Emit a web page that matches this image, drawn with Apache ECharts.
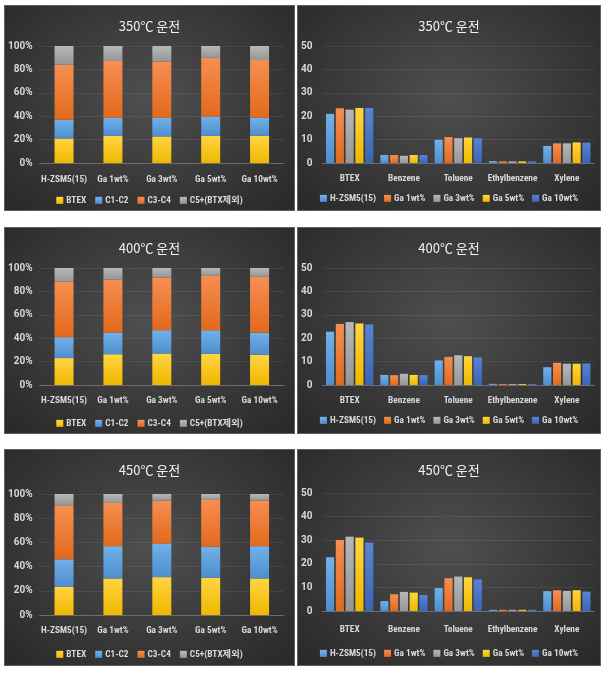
<!DOCTYPE html>
<html>
<head>
<meta charset="utf-8">
<script src="https://cdn.jsdelivr.net/npm/echarts@6/dist/echarts.min.js"></script>
<style>
html,body{margin:0;padding:0;background:#ffffff;width:610px;height:673px;overflow:hidden;}
.panel{position:absolute;box-sizing:border-box;border:1px solid #5e5e5e;
background:radial-gradient(ellipse at 50% 45%, #4f4f4f 0%, #3d3d3d 45%, #282828 100%);}
</style>
</head>
<body>
<div id="p1" class="panel" style="left:4px;top:5px;width:291px;height:206px;"></div>
<div id="p2" class="panel" style="left:297px;top:5px;width:304px;height:206px;"></div>
<div id="p3" class="panel" style="left:4px;top:227px;width:291px;height:207px;"></div>
<div id="p4" class="panel" style="left:297px;top:227px;width:304px;height:207px;"></div>
<div id="p5" class="panel" style="left:4px;top:449px;width:291px;height:217px;"></div>
<div id="p6" class="panel" style="left:297px;top:449px;width:304px;height:217px;"></div>
<script>
// ---------- DATA ----------
const titles = ['350℃ 운전', '400℃ 운전', '450℃ 운전'];
const catalysts = ['H-ZSM5(15)', 'Ga 1wt%', 'Ga 3wt%', 'Ga 5wt%', 'Ga 10wt%'];
const productGroups = ['BTEX', 'C1-C2', 'C3-C4', 'C5+(BTX제외)'];
const aromatics = ['BTEX', 'Benzene', 'Toluene', 'Ethylbenzene', 'Xylene'];
const pctTicks = ['0%', '20%', '40%', '60%', '80%', '100%'];
const yieldTicks = ['0', '10', '20', '30', '40', '50'];

// product distribution (%), by catalyst order
const btex350 = [21.0, 23.2, 22.7, 23.2, 23.2];
const c1c2_350 = [16.0, 15.5, 16.0, 16.6, 15.5];
const c3c4_350 = [47.0, 48.4, 48.1, 50.1, 49.3];
const c5_350 = [16.0, 12.9, 13.2, 10.1, 12.0];

const btex400 = [23.0, 26.3, 26.9, 26.6, 25.8];
const c1c2_400 = [17.9, 18.5, 19.9, 20.2, 19.0];
const c3c4_400 = [47.3, 45.4, 45.1, 46.5, 47.6];
const c5_400 = [11.8, 9.8, 8.1, 6.7, 7.6];

const btex450 = [23.2, 30.2, 31.3, 30.8, 30.2];
const c1c2_450 = [22.8, 26.7, 27.8, 25.6, 26.7];
const c3c4_450 = [44.7, 35.7, 35.5, 38.7, 37.7];
const c5_450 = [9.3, 7.4, 5.4, 4.9, 5.4];

// aromatic yields, by aromatic order
const hzsm350 = [21.0, 3.4, 9.9, 0.8, 7.3];
const ga1_350 = [23.4, 3.4, 11.1, 0.7, 8.4];
const ga3_350 = [22.8, 3.1, 10.6, 0.7, 8.4];
const ga5_350 = [23.5, 3.4, 10.9, 0.7, 8.8];
const ga10_350 = [23.5, 3.4, 10.6, 0.7, 8.7];

const hzsm400 = [22.8, 4.3, 10.5, 0.5, 7.6];
const ga1_400 = [26.1, 4.2, 12.0, 0.4, 9.5];
const ga3_400 = [26.9, 4.8, 12.7, 0.4, 9.1];
const ga5_400 = [26.3, 4.3, 12.3, 0.4, 9.1];
const ga10_400 = [25.9, 4.2, 11.8, 0.4, 9.2];

const hzsm450 = [22.8, 4.2, 9.7, 0.5, 8.4];
const ga1_450 = [30.1, 7.1, 13.9, 0.5, 8.8];
const ga3_450 = [31.5, 8.1, 14.6, 0.5, 8.5];
const ga5_450 = [31.1, 7.8, 14.3, 0.5, 8.8];
const ga10_450 = [29.0, 6.8, 13.4, 0.5, 8.2];

// ---------- FONT PICK (narrow face if any is installed) ----------
const ctx = document.createElement('canvas').getContext('2d');
const SAMPLE = 'H-ZSM5(15)';
function w(font) { ctx.font = font; return ctx.measureText(SAMPLE).width; }
function hasFont(f) {
  return w(`bold 40px "${f}", monospace`) !== w('bold 40px monospace') ||
         w(`bold 40px "${f}", serif`) !== w('bold 40px serif');
}
const base = w('bold 40px Roboto');
const cands = [
  ['Liberation Sans Narrow', 'normal'], ['Arial Narrow', 'normal'],
  ['DejaVu Sans Condensed', 'normal'], ['Noto Sans Condensed', 'normal'],
  ['Noto Sans SemiCondensed', 'normal'], ['Roboto Condensed', 'normal'],
  ['Open Sans Condensed', 'normal'],
  ['Noto Sans', 'condensed'], ['Open Sans', 'condensed'], ['Roboto', 'condensed'],
  ['DejaVu Sans', 'condensed'], ['Inter', 'condensed'],
  ['Noto Sans', 'semi-condensed'], ['Open Sans', 'semi-condensed'], ['Roboto', 'semi-condensed']
];
let LATIN = 'Roboto', STRETCH = 'normal';
for (const [f, s] of cands) {
  if (!hasFont(f)) continue;
  const sw = w(`${s} bold 40px "${f}"`);
  const nw = w(`bold 40px "${f}"`);
  if ((s === 'normal' || sw < nw * 0.97) && sw < base * 0.93) { LATIN = f; STRETCH = s; break; }
}
const FONT = `'${LATIN}', 'Noto Sans CJK KR', sans-serif`;
const wRef = w(`${STRETCH} bold 10px ${FONT}`);
const LBL = Math.min(11, Math.round(10 * 46 / wRef * 10) / 10);

// ---------- STYLE ----------
const palette = {
  blue:   ['#72b1e8', '#4d8ecf', '#5B9BD5'],
  orange: ['#f68f52', '#e2691c', '#ED7D31'],
  gray:   ['#b8b8b8', '#969696', '#A5A5A5'],
  yellow: ['#ffd541', '#f0b700', '#FFC000'],
  navy:   ['#5884d6', '#3a65b6', '#4472C4']
};
function grad(c) {
  return new echarts.graphic.LinearGradient(0, 0, 0, 1, [
    {offset: 0, color: c[0]}, {offset: 1, color: c[1]}
  ]);
}
const TXT = '#d9d9d9';
const lblStyle = {color: TXT, fontSize: LBL, fontWeight: 'bold', fontStyle: STRETCH, fontFamily: FONT};

function baseOpt(title, lay) {
  return {
    animation: false,
    textStyle: {fontFamily: FONT},
    title: {
      text: title, left: 'center', top: lay.titleTop,
      textStyle: {color: '#f2f2f2', fontSize: 13, fontWeight: 'normal',
        fontFamily: "'Noto Sans CJK KR', sans-serif"}
    },
    legend: {
      bottom: lay.legendBottom, left: 'center', itemWidth: 7, itemHeight: 7, itemGap: lay.legendGap,
      icon: 'rect', padding: 0,
      textStyle: Object.assign({}, lblStyle, {padding: [0, 0, 0, -2]})
    },
    grid: {left: lay.left, right: lay.right, top: lay.top, bottom: lay.bottom, containLabel: false},
  };
}

function axes(o, cats, lay, max, step, ticks, yMargin) {
  o.xAxis = {
    type: 'category', data: cats,
    axisLine: {lineStyle: {color: '#6e6e6e'}}, axisTick: {show: false},
    axisLabel: Object.assign({}, lblStyle, {margin: lay.xMargin, interval: 0})
  };
  o.yAxis = {
    type: 'value', min: 0, max: max, interval: step,
    axisLine: {show: false}, axisTick: {show: false},
    splitLine: {lineStyle: {color: 'rgba(255,255,255,0.07)'}},
    axisLabel: {color: TXT, fontSize: 10, fontWeight: 'bold', margin: yMargin,
      fontFamily: "Roboto, sans-serif",
      formatter: (v) => ticks[Math.round(v / step)]}
  };
}

function leftChart(id, title, cats, series, ticks, lay) {
  const ch = echarts.init(document.getElementById(id));
  const o = baseOpt(title, lay);
  axes(o, cats, lay, 100, 20, ticks, 7);
  const cols = [palette.yellow, palette.blue, palette.orange, palette.gray];
  o.series = series.map((d, i) => ({
    name: productGroups[i], type: 'bar', stack: 'total', data: d, barWidth: 19,
    itemStyle: {color: grad(cols[i])},
  }));
  o.color = cols.map(c => c[2]);
  ch.setOption(o);
}

function rightChart(id, title, cats, series, ticks, lay) {
  const ch = echarts.init(document.getElementById(id));
  const o = baseOpt(title, lay);
  axes(o, cats, lay, 50, 10, ticks, 10);
  const cols = [palette.blue, palette.orange, palette.gray, palette.yellow, palette.navy];
  o.series = series.map((d, i) => ({
    name: catalysts[i], type: 'bar', data: d, barGap: '20%', barCategoryGap: '13%',
    itemStyle: {color: grad(cols[i])},
  }));
  o.color = cols.map(c => c[2]);
  ch.setOption(o);
}

const layL = [
  {titleTop: 9, left: 33, right: 10, top: 40, bottom: 47, legendBottom: 5, legendGap: 9, xMargin: 12},
  {titleTop: 9, left: 33, right: 10, top: 40, bottom: 48, legendBottom: 5, legendGap: 9, xMargin: 11},
  {titleTop: 9, left: 33, right: 10, top: 44, bottom: 50, legendBottom: 6, legendGap: 9, xMargin: 11}
];
const layR = [
  {titleTop: 9, left: 22, right: 6, top: 40, bottom: 47, legendBottom: 7, legendGap: 8, xMargin: 11},
  {titleTop: 9, left: 22, right: 6, top: 40, bottom: 48, legendBottom: 8, legendGap: 8, xMargin: 11},
  {titleTop: 9, left: 22, right: 6, top: 43, bottom: 54, legendBottom: 7, legendGap: 8, xMargin: 14}
];

leftChart('p1', titles[0], catalysts, [btex350, c1c2_350, c3c4_350, c5_350], pctTicks, layL[0]);
leftChart('p3', titles[1], catalysts, [btex400, c1c2_400, c3c4_400, c5_400], pctTicks, layL[1]);
leftChart('p5', titles[2], catalysts, [btex450, c1c2_450, c3c4_450, c5_450], pctTicks, layL[2]);
rightChart('p2', titles[0], aromatics, [hzsm350, ga1_350, ga3_350, ga5_350, ga10_350], yieldTicks, layR[0]);
rightChart('p4', titles[1], aromatics, [hzsm400, ga1_400, ga3_400, ga5_400, ga10_400], yieldTicks, layR[1]);
rightChart('p6', titles[2], aromatics, [hzsm450, ga1_450, ga3_450, ga5_450, ga10_450], yieldTicks, layR[2]);
</script>
</body>
</html>
